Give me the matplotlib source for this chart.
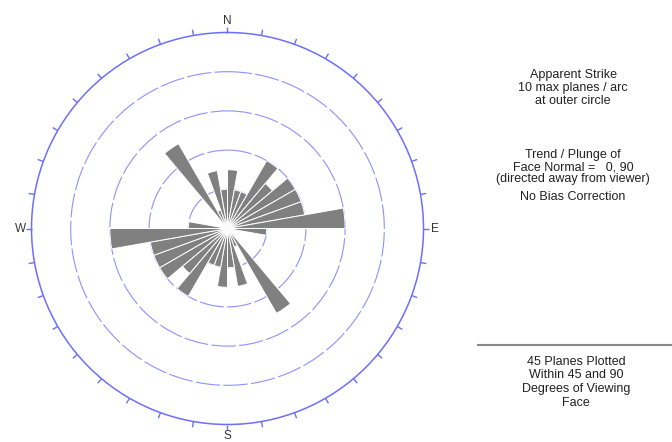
import numpy as np
import matplotlib.pyplot as plt
from matplotlib.lines import Line2D

plt.rcParams['font.family'] = ['Liberation Sans', 'DejaVu Sans']

# apparent strike bins (deg, start of 10 deg arc) and number of planes in each
bin_start = list(range(0, 360, 10))
planes = [3, 2, 2, 4, 3, 4, 4, 4, 6, 2, 0, 0, 0, 0, 5, 1, 3, 2,
          3, 2, 2, 4, 3, 4, 4, 4, 6, 2, 0, 0, 0, 0, 5, 1, 3, 2]
max_planes = 10
ring_levels = [2, 4, 6, 8]
tick_angles = list(range(0, 360, 10))
compass = {'N': 0, 'E': 90, 'S': 180, 'W': 270}

info_top = ['Apparent Strike', '10 max planes / arc', 'at outer circle']
info_mid = ['Trend / Plunge of', 'Face Normal =   0, 90', '(directed away from viewer)']
info_bias = 'No Bias Correction'
info_bottom = ['45 Planes Plotted', 'Within 45 and 90', 'Degrees of Viewing', 'Face']

W, H = 672, 442
fig = plt.figure(figsize=(W / 100, H / 100), dpi=100)

# pixel position (top-left origin) -> figure fraction
def fx(px):
    return px / W

def fy(py):
    return 1 - py / H

cx, cy, rad = 227.5, 228.5, 196
ax = fig.add_axes([fx(cx - rad), fy(cy + rad), 2 * rad / W, 2 * rad / H], projection='polar')
ax.set_theta_zero_location('N')
ax.set_theta_direction(-1)
ax.set_ylim(0, max_planes)

blue = '#6e6eff'
theta = np.deg2rad(np.array(bin_start) + 5)
ax.bar(theta, planes, width=np.deg2rad(10), bottom=0,
       color='#808080', edgecolor='white', linewidth=0.7, zorder=3)

ax.set_yticks(ring_levels)
ax.set_yticklabels([])
ax.yaxis.grid(True, color='#9090ff', linewidth=0.8, linestyle=(0, (22, 3)))
ax.xaxis.grid(False)
ax.set_xticks([])
ax.spines['polar'].set_color(blue)
ax.spines['polar'].set_linewidth(1.1)

# small outward ticks every 10 degrees on the outer circle
ax.vlines(np.deg2rad(tick_angles), max_planes, max_planes * 1.03,
          color=blue, linewidth=1, clip_on=False)

for lab, ang in compass.items():
    ax.text(np.deg2rad(ang), max_planes * 1.058, lab, ha='center', va='center',
            fontsize=8.5, color='#333333', clip_on=False)

fs = 9
for i, s in enumerate(info_top):
    fig.text(fx(573), fy(75 + 13 * i), s, ha='center', va='center', fontsize=fs, color='#222222')
for i, s in enumerate(info_mid):
    fig.text(fx(573), fy(155 + 12 * i), s, ha='center', va='center', fontsize=fs, color='#222222')
fig.text(fx(573), fy(197), info_bias, ha='center', va='center', fontsize=fs, color='#222222')

fig.add_artist(Line2D([fx(478), fx(672)], [fy(345), fy(345)], color='#888888', linewidth=1.5))
for i, s in enumerate(info_bottom):
    fig.text(fx(576), fy(362 + 13.5 * i), s, ha='center', va='center', fontsize=fs, color='#222222')

fig.savefig('out.png', dpi=100)
